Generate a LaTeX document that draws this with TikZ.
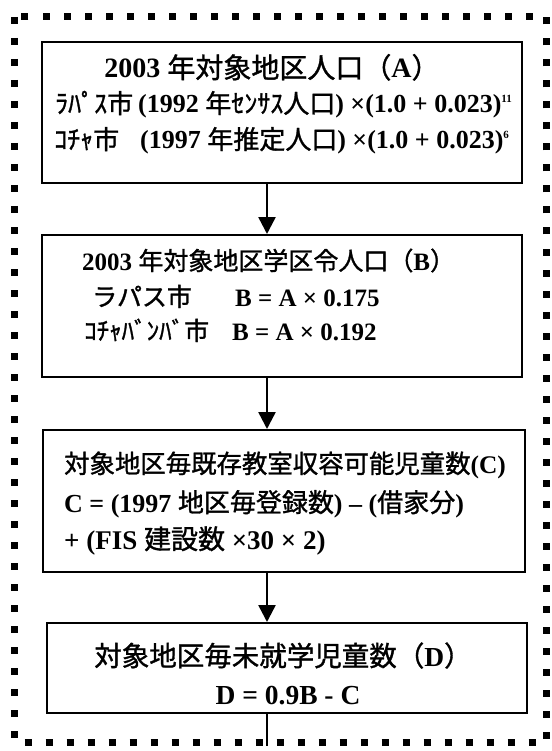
\documentclass[tikz,border=0pt]{standalone}
\usepackage{fontspec}
\setmainfont{Liberation Serif}
\newfontfamily\jpf{Noto Sans CJK JP}[FakeBold=1.2]
\usetikzlibrary{arrows.meta}
\newcommand\J[1]{{\jpf\mdseries #1}}
\newcommand\sups[1]{\raisebox{10pt}{\fontsize{11}{11}\selectfont #1}}
\tikzset{
  flowbox/.style={draw, line width=2pt, inner sep=0pt},
  txt/.style={inner sep=0pt, anchor=base west},
  txtc/.style={inner sep=0pt, anchor=base},
  fs/.style={font=\bfseries\fontsize{#1}{#1}\selectfont},
  flow/.style={line width=2.5pt, -{Triangle[width=17pt,length=17pt]}},
  frame/.style={line width=7pt, dash pattern=on 7pt off 14pt}
}
\begin{document}
\begin{tikzpicture}[x=1pt,y=-1pt]
\useasboundingbox (0,0) rectangle (551,751);
\draw[frame] (14.5,17) rectangle (546,742);

\node[flowbox, minimum width=480pt, minimum height=141pt] (b1) at (282,112.5) {};
\node[flowbox, minimum width=480pt, minimum height=142pt] (b2) at (282,306) {};
\node[flowbox, minimum width=482pt, minimum height=142pt] (b3) at (284,501) {};
\node[flowbox, minimum width=480pt, minimum height=90pt] (b4) at (287,668) {};
\coordinate (end) at (267,746);

\node[txtc, fs=28] (t1a) at (272,78) {2003 \J{年対象地区人口（}A\J{）}};
\node[txt, fs=26] (t1b) at (55,113) {\J{ﾗﾊﾟｽ市}};
\node[txt, fs=26] (t1b2) at (138,113) {(1992 \J{年ｾﾝｻｽ人口}) ×(1.0 + 0.023)\sups{11}};
\node[txt, fs=26] (t1c) at (54,149) {\J{ｺﾁｬ市}};
\node[txt, fs=26] (t1c2) at (140,149) {(1997 \J{年推定人口}) ×(1.0 + 0.023)\sups{6}};

\node[txt, fs=25] (t2a) at (82,270) {2003 \J{年対象地区学区令人口（}B\J{）}};
\node[txt, fs=25] (t2b) at (92,306) {\J{ラパス市}};
\node[txt, fs=25] (t2b2) at (235,306) {B = A × 0.175};
\node[txt, fs=25] (t2c) at (84,340) {\J{ｺﾁｬﾊﾞﾝﾊﾞ市}};
\node[txt, fs=25] (t2c2) at (232,340) {B = A × 0.192};

\node[txt, fs=25.4] (t3a) at (64,473) {\J{対象地区毎既存教室収容可能児童数}(C)};
\node[txt, fs=26] (t3b) at (64,512) {C = (1997 \J{地区毎登録数}) – (\J{借家分})};
\node[txt, fs=27] (t3c) at (64,549) {+ (FIS \J{建設数} ×30 × 2)};

\node[txtc, fs=27.5] (t4a) at (283,666) {\J{対象地区毎未就学児童数（}D\J{）}};
\node[txtc, fs=27.5] (t4b) at (288,704) {D = 0.9B - C};

\draw[flow] (b1.south -| end) -- (b2.north -| end);
\draw[flow] (b2.south -| end) -- (b3.north -| end);
\draw[flow] (b3.south -| end) -- (b4.north -| end);
\draw[line width=2.5pt] (b4.south -| end) -- (end);
\end{tikzpicture}
\end{document}
